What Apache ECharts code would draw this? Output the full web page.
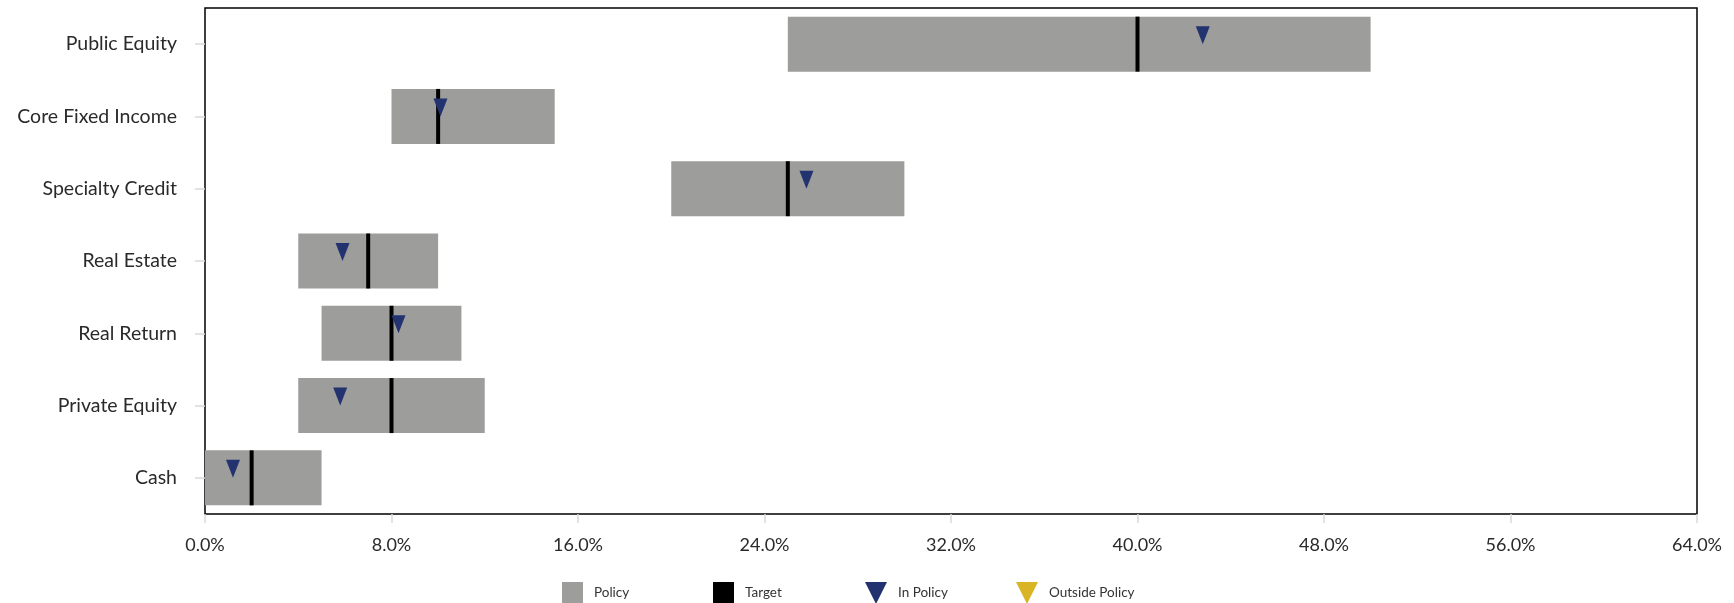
<!DOCTYPE html>
<html>
<head>
<meta charset="utf-8">
<script src="https://cdn.jsdelivr.net/npm/echarts@6/dist/echarts.min.js"></script>
<style>
  html, body { margin: 0; padding: 0; background: #fff; }
  #chart { width: 1734px; height: 603px; }
</style>
</head>
<body>
<div id="chart"></div>
<script>
// asset classes, top to bottom
const categories = ['Public Equity', 'Core Fixed Income', 'Specialty Credit', 'Real Estate', 'Real Return', 'Private Equity', 'Cash'];
// policy range (percent)
const policyMin = [25, 8, 20, 4, 5, 4, 0];
const policyMax = [50, 15, 30, 10, 11, 12, 5];
const target = [40, 10, 25, 7, 8, 8, 2];
const actual = [42.8, 10.1, 25.8, 5.9, 8.3, 5.8, 1.2];
const xTicks = [0, 8, 16, 24, 32, 40, 48, 56, 64];

const GRAY = '#9d9d9c';
const NAVY = '#22336f';
const GOLD = '#d9b526';
const TRI = 'path://M0,0 L2,0 L1,2 Z';

// split actual into in / outside policy
const inPolicy = [], outPolicy = [];
actual.forEach((v, i) => {
  const ok = v >= policyMin[i] && v <= policyMax[i];
  inPolicy.push(ok ? [v, categories[i]] : null);
  outPolicy.push(ok ? null : [v, categories[i]]);
});

const chart = echarts.init(document.getElementById('chart'));
const font = 'Lato, "Open Sans", sans-serif';

function legendAt(left, name, icon, w, h) {
  return {
    left: left, top: 577,
    itemWidth: w, itemHeight: h, itemGap: 0,
    data: [{ name: name, icon: icon }],
    selectedMode: false,
    textStyle: { fontFamily: font, fontSize: 13.5, color: '#333', padding: [0, 0, 0, 6] }
  };
}

chart.setOption({
  animation: false,
  grid: {
    left: 205, right: 37, top: 8, bottom: 89,
    show: true, borderColor: '#000', borderWidth: 1.5
  },
  legend: [
    legendAt(557, 'Policy', 'rect', 21, 22),
    legendAt(708, 'Target', 'rect', 21, 22),
    legendAt(860, 'In Policy', TRI, 22, 24),
    legendAt(1011, 'Outside Policy', TRI, 22, 24)
  ],
  xAxis: {
    type: 'value', min: xTicks[0], max: xTicks[xTicks.length - 1], interval: xTicks[1] - xTicks[0],
    axisLine: { show: false },
    axisTick: { show: true, length: 9, lineStyle: { color: '#d9d9d9', width: 1.5 } },
    splitLine: { show: false },
    axisLabel: {
      margin: 22, fontFamily: font, fontSize: 18, color: '#2a2a2a',
      formatter: v => v.toFixed(1) + '%'
    }
  },
  yAxis: {
    type: 'category', data: categories, inverse: true,
    axisLine: { show: false },
    axisTick: { show: true, length: 10, alignWithLabel: true, lineStyle: { color: '#d9d9d9', width: 1.5 } },
    axisLabel: { margin: 28, fontFamily: font, fontSize: 19.5, color: '#2a2a2a' }
  },
  series: [
    {
      name: 'base', type: 'bar', stack: 'p', barWidth: 55,
      itemStyle: { color: 'transparent' },
      data: policyMin
    },
    {
      name: 'Policy', type: 'bar', stack: 'p', barWidth: 55,
      itemStyle: { color: GRAY },
      data: policyMax.map((v, i) => v - policyMin[i])
    },
    {
      name: 'Target', type: 'scatter', symbol: 'rect', symbolSize: [4, 55],
      itemStyle: { color: '#000', opacity: 1 }, z: 3,
      data: target.map((v, i) => [v, categories[i]])
    },
    {
      name: 'In Policy', type: 'scatter', symbol: TRI, symbolSize: [14, 18], symbolOffset: [0, -9],
      itemStyle: { color: NAVY, opacity: 1 }, z: 4,
      data: inPolicy
    },
    {
      name: 'Outside Policy', type: 'scatter', symbol: TRI, symbolSize: [14, 18], symbolOffset: [0, -9],
      itemStyle: { color: GOLD, opacity: 1 }, z: 4,
      data: outPolicy
    }
  ]
});
</script>
</body>
</html>
